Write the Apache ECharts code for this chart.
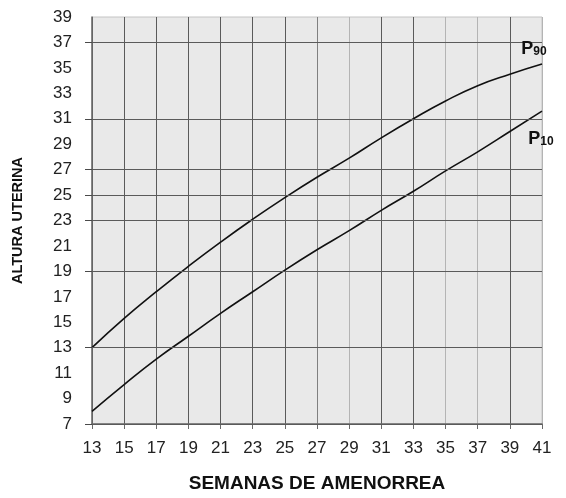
<!DOCTYPE html>
<html>
<head>
<meta charset="utf-8">
<script src="https://cdn.jsdelivr.net/npm/echarts@6/dist/echarts.min.js"></script>
<style>
  html, body { margin: 0; padding: 0; background: #fff; }
  #chart { width: 566px; height: 498px; }
</style>
</head>
<body>
<div id="chart"></div>
<script>
// semanas de amenorrea
const semanas = [13, 15, 17, 19, 21, 23, 25, 27, 29, 31, 33, 35, 37, 39, 41]
// percentil 90 y 10 de la altura uterina (cm)
const p90 = [13.0, 15.3, 17.4, 19.4, 21.3, 23.1, 24.8, 26.4, 27.9, 29.5, 31.0, 32.4, 33.6, 34.5, 35.3]
const p10 = [8.0, 10.1, 12.1, 13.9, 15.7, 17.4, 19.1, 20.7, 22.2, 23.8, 25.3, 26.9, 28.4, 30.0, 31.6]
// valores de la escala vertical y lineas horizontales marcadas en el original
const etiquetasY = [7, 9, 11, 13, 15, 17, 19, 21, 23, 25, 27, 29, 31, 33, 35, 37, 39]
const lineasY = [7, 13, 19, 23, 25, 27, 31, 37]

const font = "'Liberation Sans', Arial, sans-serif"
const oscuro = '#5a5a5a'
const claro = '#b4b4b4'
// color de cada linea vertical, de 13 a 41
const coloresX = [oscuro, oscuro, oscuro, oscuro, oscuro, oscuro, oscuro, '#808080', claro, oscuro, oscuro, claro, claro, oscuro, claro]

const chart = echarts.init(document.getElementById('chart'))

function etiqueta(num, valor, offset) {
  return {
    data: [{ coord: [semanas[semanas.length - 1], valor] }],
    symbol: 'circle',
    symbolSize: 1,
    itemStyle: { color: 'rgba(0,0,0,0)' },
    label: {
      show: true,
      position: num === '90' ? 'top' : 'bottom',
      offset: offset,
      formatter: '{p|P}{s|' + num + '}',
      rich: {
        p: { fontFamily: font, fontSize: 18, fontWeight: 'bold', color: '#111', verticalAlign: 'bottom' },
        s: { fontFamily: font, fontSize: 12, fontWeight: 'bold', color: '#111', verticalAlign: 'bottom' }
      }
    }
  }
}

const option = {
  animation: false,
  backgroundColor: '#fff',
  grid: {
    left: 92,
    right: 24,
    top: 17,
    bottom: 70,
    show: true,
    backgroundColor: '#e9e9e9',
    borderColor: '#c4c4c4',
    borderWidth: 1
  },
  xAxis: {
    type: 'value',
    min: 13,
    max: 41,
    interval: 2,
    name: 'SEMANAS DE AMENORREA',
    nameLocation: 'middle',
    nameGap: 50,
    nameTextStyle: { fontFamily: font, fontSize: 19, fontWeight: 'bold', color: '#111' },
    axisLine: { show: true, lineStyle: { color: '#6a6a6a', width: 1.5 } },
    axisTick: { show: true, length: 5, lineStyle: { color: '#6a6a6a' } },
    axisLabel: { fontFamily: font, fontSize: 17, color: '#222', margin: 16 },
    splitLine: { show: true, lineStyle: { color: coloresX, width: 1 } }
  },
  yAxis: {
    type: 'value',
    min: 7,
    max: 39,
    interval: 2,
    name: 'ALTURA UTERINA',
    nameLocation: 'middle',
    nameGap: 67,
    nameTextStyle: { fontFamily: font, fontSize: 14.5, fontWeight: 'bold', color: '#111' },
    axisLine: { show: true, lineStyle: { color: '#6a6a6a', width: 1.5 } },
    axisTick: { show: true, length: 7, customValues: lineasY, lineStyle: { color: '#4a4a4a' } },
    axisLabel: { fontFamily: font, fontSize: 17, color: '#222', margin: 20, customValues: etiquetasY },
    splitLine: { show: false }
  },
  series: [
    {
      name: 'P90',
      type: 'line',
      data: semanas.map((s, i) => [s, p90[i]]),
      smooth: true,
      showSymbol: false,
      lineStyle: { color: '#111', width: 1.6 },
      markPoint: etiqueta('90', p90[p90.length - 1], [-8, -1]),
      // lineas horizontales de la cuadricula
      markLine: {
        silent: true,
        symbol: 'none',
        label: { show: false },
        lineStyle: { color: oscuro, width: 1, type: 'solid' },
        data: lineasY.map(v => ({ yAxis: v }))
      },
      z: 3
    },
    {
      name: 'P10',
      type: 'line',
      data: semanas.map((s, i) => [s, p10[i]]),
      smooth: true,
      showSymbol: false,
      lineStyle: { color: '#111', width: 1.6 },
      markPoint: etiqueta('10', p10[p10.length - 1], [-1, 13]),
      z: 3
    }
  ]
}

chart.setOption(option)
</script>
</body>
</html>
